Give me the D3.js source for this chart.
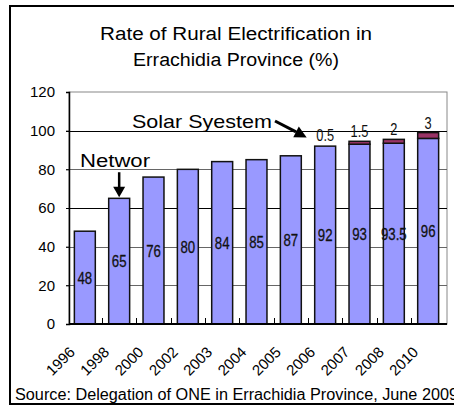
<!DOCTYPE html>
<html><head><meta charset="utf-8">
<script src="https://cdn.jsdelivr.net/npm/d3@7"></script>
<style>body{margin:0;background:#fff}svg{display:block}</style>
</head><body>
<script>
const years = ["1996","1998","2000","2002","2003","2004","2005","2006","2007","2008","2010"];
const network = [48,65,76,80,84,85,87,92,93,93.5,96];
const solar = [0,0,0,0,0,0,0,0.5,1.5,2,3];
const solarLabels = [null,null,null,null,null,null,null,"0.5","1.5","2","3"];
const yTicks = [0,20,40,60,80,100,120];

const W=454,H=407;
const svg=d3.select("body").append("svg").attr("width",W).attr("height",H);
const L=69,R=447,T=92,B=324;
const x=d3.scaleBand().domain(years).range([L-1.5,R-1.5]).paddingInner(0.39).paddingOuter(0.2);
const y=d3.scaleLinear().domain([0,120]).range([B,T]);
const sans="'Liberation Sans',Arial,sans-serif";

// outer frame
svg.append("rect").attr("x",10).attr("y",6).attr("width",460).attr("height",398)
  .attr("fill","#fff").attr("stroke","#000").attr("stroke-width",2);

// title
svg.append("text").attr("x",236).attr("y",40).attr("text-anchor","middle")
  .attr("font-family",sans).attr("font-size",18).attr("textLength",272).attr("lengthAdjust","spacingAndGlyphs")
  .text("Rate of Rural Electrification in");
svg.append("text").attr("x",236).attr("y",66).attr("text-anchor","middle")
  .attr("font-family",sans).attr("font-size",18).attr("textLength",206).attr("lengthAdjust","spacingAndGlyphs")
  .text("Errachidia Province (%)");

// plot frame
svg.append("rect").attr("x",L).attr("y",T).attr("width",R-L).attr("height",B-T)
  .attr("fill","none").attr("stroke","#888").attr("stroke-width",1);

// gridlines
const gridColor={20:"#666",40:"#666",60:"#000",80:"#666",100:"#000"};
svg.append("g").selectAll("line").data(yTicks.filter(d=>d>0&&d<120)).join("line")
  .attr("x1",L-3).attr("x2",R).attr("y1",d=>Math.round(y(d))+0.5).attr("y2",d=>Math.round(y(d))+0.5)
  .attr("stroke",d=>gridColor[d]).attr("stroke-width",1);

// y axis
const yAxis=d3.axisLeft(y).tickValues(yTicks).tickSize(3).tickPadding(11);
const ga=svg.append("g").attr("transform",`translate(${L},0)`).call(yAxis);
ga.select(".domain").attr("stroke","#000").attr("stroke-width",1.5);
ga.selectAll(".tick line").attr("stroke","#000");
ga.selectAll(".tick text").attr("font-family",sans).attr("font-size",15).attr("fill","#000");

// bars
const g=svg.append("g");
g.selectAll("rect.net").data(years).join("rect").attr("class","net")
  .attr("x",d=>x(d)).attr("width",x.bandwidth())
  .attr("y",(d,i)=>y(network[i])).attr("height",(d,i)=>y(0)-y(network[i]))
  .attr("fill","#9999ff").attr("stroke","#111").attr("stroke-width",1.5);
g.selectAll("rect.sol").data(years.filter((d,i)=>solar[i]>0.6)).join("rect").attr("class","sol")
  .attr("x",d=>x(d)).attr("width",x.bandwidth())
  .attr("y",d=>{const i=years.indexOf(d);return y(network[i]+solar[i]);})
  .attr("height",d=>{const i=years.indexOf(d);return y(network[i])-y(network[i]+solar[i]);})
  .attr("fill","#993366").attr("stroke","#111").attr("stroke-width",1.5);

// x axis
svg.append("line").attr("x1",L).attr("x2",R).attr("y1",B).attr("y2",B).attr("stroke","#000").attr("stroke-width",2);
const bounds=years.slice(1).map(d=>x(d)-x.step()*x.paddingInner()/2);
svg.append("g").selectAll("line").data(bounds).join("line")
  .attr("x1",d=>Math.round(d)+0.5).attr("x2",d=>Math.round(d)+0.5).attr("y1",B).attr("y2",B-6)
  .attr("stroke","#000").attr("stroke-width",1);

// value labels (condensed)
g.selectAll("text.v").data(years).join("text").attr("class","v")
  .attr("transform",(d,i)=>`translate(${x(d)+x.bandwidth()/2},${(y(0)+y(network[i]))/2+6}) scale(0.8,1)`)
  .attr("text-anchor","middle").attr("font-family",sans).attr("font-size",16.5).attr("fill","#111")
  .attr("stroke","#111").attr("stroke-width",0.3)
  .text((d,i)=>network[i]);
g.selectAll("text.s").data(years.filter((d,i)=>solarLabels[i])).join("text").attr("class","s")
  .attr("transform",d=>{const i=years.indexOf(d);return `translate(${x(d)+x.bandwidth()/2},${y(network[i]+solar[i])-4}) scale(0.8,1)`;})
  .attr("text-anchor","middle").attr("font-family",sans).attr("font-size",16).attr("fill","#111")
  .text(d=>solarLabels[years.indexOf(d)]);

// x labels
svg.append("g").selectAll("text").data(years).join("text")
  .attr("transform",d=>`translate(${x(d)+x.bandwidth()/2-9},${B+29}) rotate(-45)`)
  .attr("text-anchor","end").attr("font-family",sans).attr("font-size",15).attr("fill","#000")
  .text(d=>d);

// annotations
const cx98=x("1998")+x.bandwidth()/2;
svg.append("text").attr("x",80).attr("y",y(81)).attr("font-family",sans).attr("font-size",18)
  .attr("textLength",70).attr("lengthAdjust","spacingAndGlyphs").text("Networ");
svg.append("line").attr("x1",cx98).attr("x2",cx98).attr("y1",y(78.5)).attr("y2",y(70))
  .attr("stroke","#000").attr("stroke-width",2.5);
svg.append("path").attr("d",`M${cx98-6},${y(71)}L${cx98+6},${y(71)}L${cx98},${y(65)-1}Z`).attr("fill","#000");

svg.append("text").attr("x",132).attr("y",y(101.5)).attr("font-family",sans).attr("font-size",19)
  .attr("textLength",140).attr("lengthAdjust","spacingAndGlyphs").text("Solar Syestem");
const tipX=x("2006")-8, tipY=y(96.5);
const sx=275, sy=y(105);
const ang=Math.atan2(tipY-sy,tipX-sx);
const hx=tipX-12*Math.cos(ang), hy=tipY-12*Math.sin(ang);
svg.append("line").attr("x1",sx).attr("y1",sy).attr("x2",hx).attr("y2",hy).attr("stroke","#000").attr("stroke-width",3);
const px=-Math.sin(ang)*6, py=Math.cos(ang)*6;
svg.append("path").attr("d",`M${hx+px},${hy+py}L${hx-px},${hy-py}L${tipX},${tipY}Z`).attr("fill","#000");

// source
svg.append("text").attr("x",15).attr("y",400).attr("font-family",sans).attr("font-size",16)
  .attr("textLength",443).attr("lengthAdjust","spacingAndGlyphs").attr("fill","#000")
  .text("Source: Delegation of ONE in Errachidia Province, June 2009");
</script>
</body></html>
